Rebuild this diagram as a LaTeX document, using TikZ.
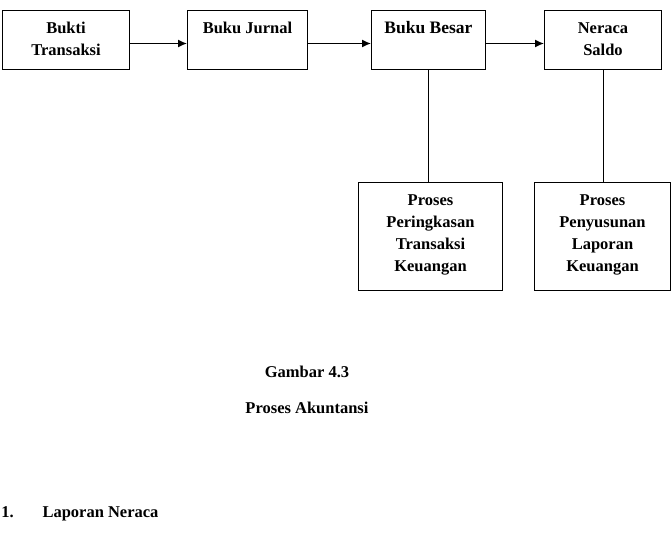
\documentclass[tikz,border=0pt]{standalone}
\usepackage{fontspec}
\setmainfont{Liberation Serif}
\usepackage{tikz}
\usetikzlibrary{arrows.meta}

\begin{document}
\begin{tikzpicture}[x=1pt,y=-1pt,line width=1pt,
            box/.style={rectangle,draw,anchor=north west,inner sep=0pt,align=center,
                        font=\bfseries\fontsize{16.5}{22}\selectfont},
            one line/.style={box,text height=22.5pt,text depth=36.5pt},
            two lines/.style={box,text height=44.5pt,text depth=14.5pt},
            four lines/.style={box,text height=88.5pt,text depth=19.5pt},
            flow/.style={line width=1.4pt,-{Latex[length=9pt,width=8pt]}},
            caption text/.style={inner sep=0pt,anchor=base,font=\bfseries\fontsize{16.5}{22}\selectfont}]

        \useasboundingbox (0,0) rectangle (672,544);

        % alur utama
        \node[two lines, minimum width=127pt] (bukti) at (2,10) {Bukti\\Transaksi};
        \node[one line, minimum width=120pt] (jurnal) at (187,10) {Buku Jurnal};
        \node[one line, minimum width=114pt, font=\bfseries\fontsize{17.5}{22}\selectfont] (besar) at (371,10) {Buku Besar};
        \node[two lines, minimum width=117pt] (neraca) at (544,10) {Neraca\\Saldo};

        % proses di bawah
        \node[four lines, minimum width=144pt] (ringkas) at (358,182) {Proses\\Peringkasan\\Transaksi\\Keuangan};
        \node[four lines, minimum width=136pt] (susun) at (534,182) {Proses\\Penyusunan\\Laporan\\Keuangan};

        \draw[flow] ([yshift=-3.5pt]bukti.east) -- ([yshift=-3.5pt]jurnal.west);
        \draw[flow] ([yshift=-3.5pt]jurnal.east) -- ([yshift=-3.5pt]besar.west);
        \draw[flow] ([yshift=-3.5pt]besar.east) -- ([yshift=-3.5pt]neraca.west);
        \draw (besar.south) -- (besar.south |- ringkas.north);
        \draw (neraca.south) -- (neraca.south |- susun.north);

        \node[caption text] (gambar) at (307,377.5) {Gambar 4.3};
        \node[caption text] (judul) at (307,413.5) {Proses Akuntansi};
        \node[caption text, anchor=base west] (nomor) at (1,517.5) {1.};
        \node[caption text, anchor=base west] (bab) at (42,517.5) {Laporan Neraca};

    \end{tikzpicture}
\end{document}
